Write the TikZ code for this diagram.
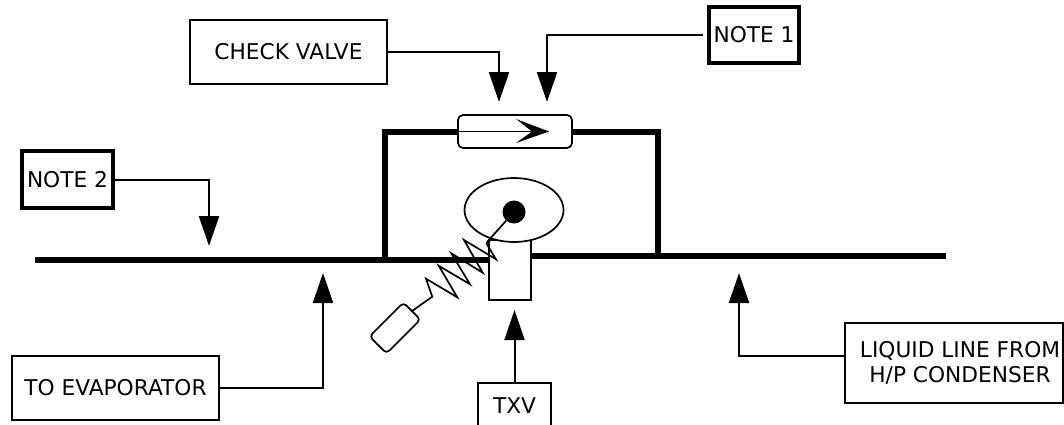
\documentclass[tikz,border=0pt]{standalone}
\usepackage{fontspec}
\setmainfont{DejaVu Sans}
\usetikzlibrary{arrows.meta,shapes.geometric}
\tikzset{
  labelbox/.style={draw, line width=1.7pt, inner sep=0pt, outer sep=0pt, align=center, font=\fontsize{21.7}{25}\selectfont},
  notebox/.style={labelbox, line width=3.5pt},
  pipe/.style={line width=6pt},
  thinpart/.style={line width=1.7pt},
  pointer/.style={line width=2pt, -{Triangle[length=30pt,width=20pt]}}
}
\begin{document}
\begin{tikzpicture}[x=1pt,y=-1pt]
\useasboundingbox (0,0) rectangle (1064,424);
% free ends
\coordinate (pipeW) at (35,260);
\coordinate (pipeE) at (946,256);
\coordinate (teeW) at (385,260);
\coordinate (teeE) at (658,256);
\coordinate (tipCheck) at (499,102);
\coordinate (tipNoteA) at (547,102);
\coordinate (tipNoteB) at (209,246);
\coordinate (tipEvap) at (323,273);
\coordinate (tipLiquid) at (739,273);
\coordinate (tipTxv) at (514.5,310);
% valve parts
\node[draw, thinpart, fill=white, outer sep=0pt, minimum width=42pt, minimum height=60pt] (txvbody) at (510,270) {}; % txv body
\node[draw, thinpart, fill=white, rounded corners=5pt, outer sep=0pt, minimum width=114pt, minimum height=33pt] (cvbody) at (515,131.5) {}; % check valve body
\draw[pipe] (pipeW) -- (txvbody.west |- pipeW); % line to evaporator
\draw[pipe] (txvbody.east |- pipeE) -- (pipeE); % liquid line
\draw[pipe] (teeW) |- (cvbody.west); % bypass left
\draw[pipe] (cvbody.east) -| (teeE); % bypass right
\node[draw, thinpart, fill=white, ellipse, inner sep=0pt, outer sep=0pt, minimum width=99pt, minimum height=64pt] (dome) at (514,210) {}; % dome
\node[circle, fill=black, inner sep=0pt, minimum size=23pt] (stem) at (514,212) {}; % dot in dome
\node[draw, thinpart, fill=white, rotate=45, rounded corners=4pt, outer sep=0pt, minimum width=48pt, minimum height=24pt] (bulb) at (395,328) {}; % sensing bulb
\draw[thinpart] (stem) -- (487.3,241.7) -- (486.7,244) -- (496,259.3) -- (464,240) -- (482.7,272.7) -- (451.3,253.3) -- (470,284.3) -- (438.7,265.7) -- (457.3,297.3) -- (426,278.7) -- (432.3,296.7) -- (bulb.east); % spring
% check valve arrow
\coordinate (flowtip) at (549,131.5);
\draw[line width=1pt] (cvbody.west) -- (flowtip);
\fill (flowtip) -- (516,119) -- (532,131.5) -- (516,143) -- cycle;
% labels
\node[labelbox, minimum width=197pt, minimum height=64pt] (checkbox) at (288.5,52) {CHECK VALVE};
\node[notebox, minimum width=90pt, minimum height=56pt] (noteA) at (754,35) {NOTE 1};
\node[notebox, minimum width=91pt, minimum height=57pt] (noteB) at (67.5,179.5) {NOTE 2};
\node[labelbox, minimum width=207pt, minimum height=64pt] (evapbox) at (115.5,388) {TO EVAPORATOR};
\node[labelbox, minimum width=218pt, minimum height=80pt] (liquidbox) at (954,363) {};
\node[align=center, inner sep=0pt, font=\fontsize{21.7}{25}\selectfont] (liquidtext) at (960,363) {LIQUID LINE FROM\\H/P CONDENSER};
\node[labelbox, minimum width=73pt, minimum height=45pt] (txvbox) at (514.5,405.5) {TXV};
% pointers
\draw[pointer] (checkbox.east) -| (tipCheck);
\draw[pointer, shorten <=6pt] (noteA.west) -| (tipNoteA);
\draw[pointer] (noteB.east) -| (tipNoteB);
\draw[pointer] (evapbox.east) -| (tipEvap);
\draw[pointer] ([yshift=7pt]liquidbox.west) -| (tipLiquid);
\draw[pointer] (txvbox.north) -- (tipTxv);
\end{tikzpicture}
\end{document}
